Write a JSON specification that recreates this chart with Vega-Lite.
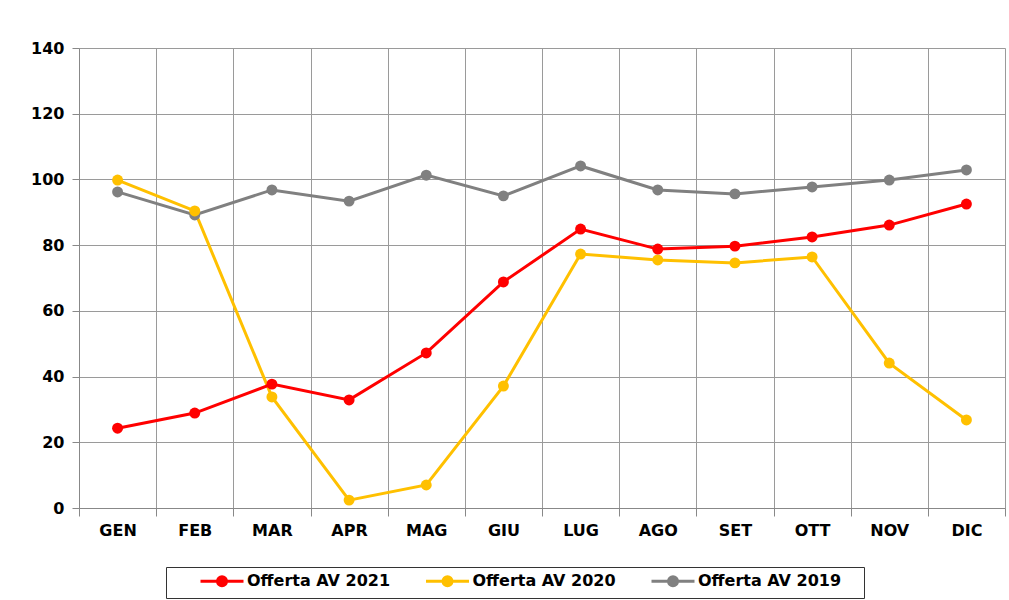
{
  "$schema": "https://vega.github.io/schema/vega-lite/v6.json",
  "width": 926,
  "height": 460,
  "autosize": {"type": "none"},
  "padding": {"left": 79, "top": 48, "right": 4, "bottom": 92},
  "background": "white",
  "config": {"view": {"stroke": null}},
  "data": {"values": [
    {"mese": "GEN", "serie": "Offerta AV 2019", "valore": 96.2},
    {"mese": "FEB", "serie": "Offerta AV 2019", "valore": 89.2},
    {"mese": "MAR", "serie": "Offerta AV 2019", "valore": 96.8},
    {"mese": "APR", "serie": "Offerta AV 2019", "valore": 93.4},
    {"mese": "MAG", "serie": "Offerta AV 2019", "valore": 101.3},
    {"mese": "GIU", "serie": "Offerta AV 2019", "valore": 95.0},
    {"mese": "LUG", "serie": "Offerta AV 2019", "valore": 104.1},
    {"mese": "AGO", "serie": "Offerta AV 2019", "valore": 96.8},
    {"mese": "SET", "serie": "Offerta AV 2019", "valore": 95.6},
    {"mese": "OTT", "serie": "Offerta AV 2019", "valore": 97.7},
    {"mese": "NOV", "serie": "Offerta AV 2019", "valore": 99.8},
    {"mese": "DIC", "serie": "Offerta AV 2019", "valore": 102.9},
    {"mese": "GEN", "serie": "Offerta AV 2020", "valore": 99.8},
    {"mese": "FEB", "serie": "Offerta AV 2020", "valore": 90.4},
    {"mese": "MAR", "serie": "Offerta AV 2020", "valore": 33.8},
    {"mese": "APR", "serie": "Offerta AV 2020", "valore": 2.4},
    {"mese": "MAG", "serie": "Offerta AV 2020", "valore": 7.0},
    {"mese": "GIU", "serie": "Offerta AV 2020", "valore": 37.1},
    {"mese": "LUG", "serie": "Offerta AV 2020", "valore": 77.3},
    {"mese": "AGO", "serie": "Offerta AV 2020", "valore": 75.5},
    {"mese": "SET", "serie": "Offerta AV 2020", "valore": 74.6},
    {"mese": "OTT", "serie": "Offerta AV 2020", "valore": 76.4},
    {"mese": "NOV", "serie": "Offerta AV 2020", "valore": 44.1},
    {"mese": "DIC", "serie": "Offerta AV 2020", "valore": 26.8},
    {"mese": "GEN", "serie": "Offerta AV 2021", "valore": 24.3},
    {"mese": "FEB", "serie": "Offerta AV 2021", "valore": 28.9},
    {"mese": "MAR", "serie": "Offerta AV 2021", "valore": 37.7},
    {"mese": "APR", "serie": "Offerta AV 2021", "valore": 32.9},
    {"mese": "MAG", "serie": "Offerta AV 2021", "valore": 47.2},
    {"mese": "GIU", "serie": "Offerta AV 2021", "valore": 68.8},
    {"mese": "LUG", "serie": "Offerta AV 2021", "valore": 84.9},
    {"mese": "AGO", "serie": "Offerta AV 2021", "valore": 78.8},
    {"mese": "SET", "serie": "Offerta AV 2021", "valore": 79.7},
    {"mese": "OTT", "serie": "Offerta AV 2021", "valore": 82.5},
    {"mese": "NOV", "serie": "Offerta AV 2021", "valore": 86.1},
    {"mese": "DIC", "serie": "Offerta AV 2021", "valore": 92.5}
  ]},
  "mark": {"type": "line", "strokeWidth": 3, "point": {"filled": true, "size": 120, "opacity": 1}},
  "encoding": {
    "x": {
      "field": "mese", "type": "nominal",
      "sort": ["GEN", "FEB", "MAR", "APR", "MAG", "GIU", "LUG", "AGO", "SET", "OTT", "NOV", "DIC"],
      "scale": {"type": "band", "paddingInner": 0, "paddingOuter": 0},
      "axis": {
        "title": null, "labelAngle": 0, "tickBand": "extent", "grid": true,
        "gridColor": "#9a9a9a", "gridWidth": 1, "domainColor": "#888888", "tickColor": "#888888",
        "tickSize": 8, "labelPadding": 6,
        "labelFont": "DejaVu Sans", "labelFontWeight": "bold", "labelFontSize": 16, "labelColor": "#000000"
      }
    },
    "y": {
      "field": "valore", "type": "quantitative",
      "scale": {"domain": [0, 140], "nice": false},
      "axis": {
        "title": null, "values": [0, 20, 40, 60, 80, 100, 120, 140], "grid": true,
        "gridColor": "#9a9a9a", "gridWidth": 1, "domainColor": "#888888", "tickColor": "#888888",
        "tickSize": 7, "labelPadding": 8,
        "labelFont": "DejaVu Sans", "labelFontWeight": "bold", "labelFontSize": 16, "labelColor": "#000000"
      }
    },
    "color": {
      "field": "serie", "type": "nominal",
      "scale": {"domain": ["Offerta AV 2021", "Offerta AV 2020", "Offerta AV 2019"], "range": ["#FF0000", "#FFC000", "#808080"]},
      "legend": {
        "title": "\u00a0", "titleOrient": "right", "titleFontSize": 10, "titlePadding": 17,
        "orient": "none", "legendX": 87, "legendY": 519, "direction": "horizontal",
        "strokeColor": "#333333", "padding": 6,
        "labelFont": "DejaVu Sans", "labelFontWeight": "bold", "labelFontSize": 16, "labelColor": "#000000",
        "symbolType": "M-4.3,0L4.3,0M-0.9,0A0.9,0.9,0,1,1,0.9,0A0.9,0.9,0,1,1,-0.9,0Z",
        "symbolSize": 100, "symbolStrokeWidth": 3, "symbolOffset": 42, "labelOffset": 17, "columnPadding": 6.5,
        "encode": {"symbols": {"update": {"fill": {"scale": "color", "field": "value"}, "stroke": {"scale": "color", "field": "value"}, "opacity": {"value": 1}}}}
      }
    }
  }
}
